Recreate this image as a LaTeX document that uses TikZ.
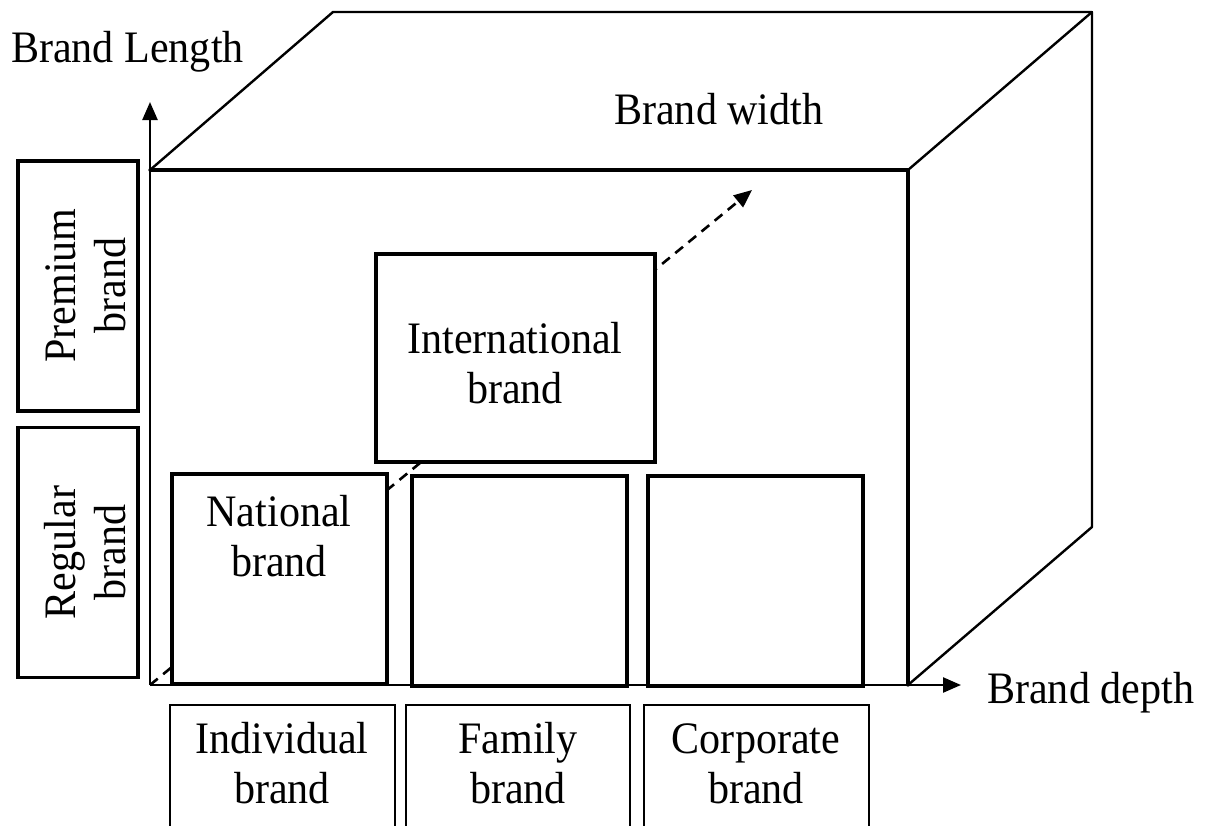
\documentclass[tikz,border=0pt]{standalone}
\usepackage{fontspec}
\setmainfont{Liberation Serif}[FakeStretch=0.935]
\usetikzlibrary{arrows.meta}
\begin{document}
\begin{tikzpicture}[x=1pt,y=-1pt,
  every node/.style={font=\fontsize{45}{50}\selectfont, align=center, inner sep=0pt},
  lbl/.style={anchor=base},
  thickbox/.style={draw, line width=3.8pt, fill=white},
  thinbox/.style={draw, line width=2pt, fill=white},
  frontline/.style={line width=3.2pt, line cap=round, line join=round},
  backline/.style={line width=2.4pt, line cap=round, line join=round},
  axisline/.style={line width=2.4pt, -{Triangle[length=18pt,width=15pt]}},
  hidden/.style={line width=2.6pt, dash pattern=on 10pt off 7pt, -{Triangle[length=18pt,width=15pt]}}]
\useasboundingbox (0,0) rectangle (1205,825);
\clip (0,0) rectangle (1205,825);
% cube corners
\coordinate (O) at (150,685);
\coordinate (FTL) at (150,170);
\coordinate (FTR) at (908,170);
\coordinate (FBR) at (908,685);
\coordinate (BTL) at (333,12);
\coordinate (BTR) at (1092,12);
\coordinate (BBR) at (1092,527);
\coordinate (Ltip) at (150,102);
\coordinate (Dtip) at (961,685);
\coordinate (Wtip) at (752,190);
% hidden depth arrow
\draw[hidden] (O) -- (Wtip);
% cube
\draw[backline] (FTL) -- (BTL) -- (BTR) -- (BBR) -- (FBR);
\draw[backline] (FTR) -- (BTR);
\draw[frontline] (FTL) -- (FTR) -- (FBR);
% axes
\draw[axisline] (O) -- (Ltip);
\draw[axisline] (O) -- (Dtip);
% axis labels
\node[anchor=base west] (lenlab) at (11,62) {Brand Length};
\node[anchor=base west] (widlab) at (614,124) {Brand width};
\node[anchor=base west] (deplab) at (987,703) {Brand depth};
% inner boxes
\node[thickbox, minimum width=279pt, minimum height=208pt] (intl) at (515.5,358) {};
\node[thickbox, minimum width=215pt, minimum height=210pt] (nat) at (279.5,579) {};
\node[thickbox, minimum width=215pt, minimum height=210pt] (fam) at (519.5,581) {};
\node[thickbox, minimum width=215pt, minimum height=210pt] (corp) at (755.5,581) {};
\node[lbl] (intlt) at (515,403) {International\\brand};
\node[lbl] (natt) at (279,576) {National\\brand};
% left boxes
\node[thickbox, minimum width=120pt, minimum height=250pt] (prem) at (78,286) {};
\node[thickbox, minimum width=120pt, minimum height=250pt] (reg) at (78,552.5) {};
\node[lbl, rotate=90] (premt) at (125,285.5) {Premium\\brand};
\node[lbl, rotate=90] (regt) at (125,552.5) {Regular\\brand};
% bottom boxes
\node[thinbox, minimum width=225pt, minimum height=150pt] (indb) at (282.5,780) {};
\node[thinbox, minimum width=224pt, minimum height=150pt] (famb) at (518,780) {};
\node[thinbox, minimum width=225pt, minimum height=150pt] (corpb) at (756.5,780) {};
\node[lbl] (indt) at (282,803) {Individual\\brand};
\node[lbl] (famt) at (518,803) {Family\\brand};
\node[lbl] (corpt) at (756,803) {Corporate\\brand};
\end{tikzpicture}
\end{document}
